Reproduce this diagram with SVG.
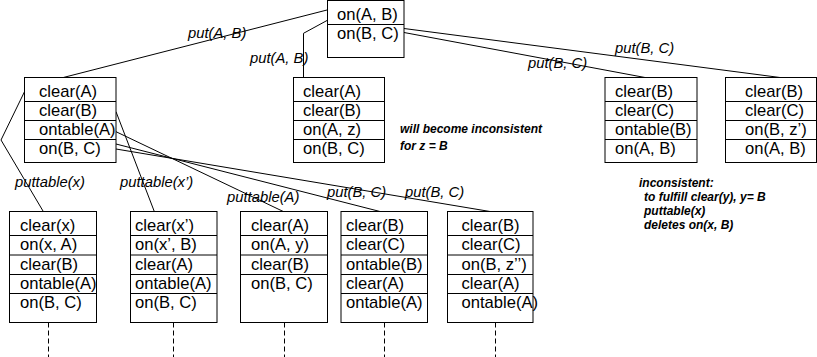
<svg xmlns="http://www.w3.org/2000/svg" width="817" height="357" viewBox="0 0 817 357">
  <style>
    .box { fill: #fff; stroke: #000; stroke-width: 1; }
    .sep { stroke: #000; stroke-width: 1; }
    .edge { fill: none; stroke: #000; stroke-width: 1; }
    .cont { fill: none; stroke: #000; stroke-width: 1; stroke-dasharray: 5 3; }
    .fact { font-family: "Liberation Sans", Arial, sans-serif; font-size: 16.6px; fill: #000; }
    .act { font-family: "Liberation Sans", Arial, sans-serif; font-size: 14.8px; font-style: italic; fill: #000; }
    .note { font-family: "Liberation Sans", Arial, sans-serif; font-size: 12px; font-style: italic; font-weight: bold; fill: #000; }
  </style>
  <rect width="817" height="357" fill="#fff"/>

  <!-- connectors -->
  <g id="connectors">
    <polyline class="edge" points="327,10 63.3,77.5"/>
    <polyline class="edge" points="327,20.5 303.5,33.3 303.5,77.5"/>
    <polyline class="edge" points="404,28.5 780,77.5"/>
    <polyline class="edge" points="404,32.5 645,77.5"/>
    <polyline class="edge" points="24.5,91.7 1,140 43.3,211.5"/>
    <polyline class="edge" points="116,111.7 154.3,211.5"/>
    <polyline class="edge" points="116,131.7 283.3,211.5"/>
    <polyline class="edge" points="116,144 380,211.5"/>
    <polyline class="edge" points="116,149 490,211.5"/>
    <line class="cont" x1="48.5" y1="322.5" x2="48.5" y2="357"/>
    <line class="cont" x1="173.5" y1="322.5" x2="173.5" y2="357"/>
    <line class="cont" x1="284.5" y1="322.5" x2="284.5" y2="357"/>
    <line class="cont" x1="384.5" y1="322.5" x2="384.5" y2="357"/>
    <line class="cont" x1="495.5" y1="322.5" x2="495.5" y2="357"/>
  </g>

  <!-- action labels -->
  <g id="labels">
    <text class="act" x="188" y="38">put(A, B)</text>
    <text class="act" x="250" y="63">put(A, B)</text>
    <text class="act" x="615" y="53">put(B, C)</text>
    <text class="act" x="528" y="68">put(B, C)</text>
    <text class="act" x="15" y="187">puttable(x)</text>
    <text class="act" x="120" y="187">puttable(x’)</text>
    <text class="act" x="227" y="202">puttable(A)</text>
    <text class="act" x="327" y="197">put(B, C)</text>
    <text class="act" x="405" y="197">put(B, C)</text>
  </g>

  <!-- goal -->
  <g id="goal">
    <rect class="box" x="327.5" y="0.5" width="76.5" height="57"/>
    <line class="sep" x1="327.5" y1="24.5" x2="404" y2="24.5"/>
    <text class="fact" x="337" y="19.5">on(A, B)</text>
    <text class="fact" x="337" y="39">on(B, C)</text>
  </g>

  <!-- first regression level -->
  <g id="r1a">
    <rect class="box" x="24.5" y="77.5" width="91.5" height="85"/>
    <line class="sep" x1="24.5" y1="101.5" x2="116" y2="101.5"/>
    <line class="sep" x1="24.5" y1="120.5" x2="116" y2="120.5"/>
    <line class="sep" x1="24.5" y1="139.5" x2="116" y2="139.5"/>
    <text class="fact" x="39" y="96.5">clear(A)</text>
    <text class="fact" x="39" y="115.5">clear(B)</text>
    <text class="fact" x="39" y="134.5">ontable(A)</text>
    <text class="fact" x="39" y="153.5">on(B, C)</text>
  </g>
  <g id="r1b">
    <rect class="box" x="293.5" y="77.5" width="91" height="85"/>
    <line class="sep" x1="293.5" y1="101.5" x2="384.5" y2="101.5"/>
    <line class="sep" x1="293.5" y1="120.5" x2="384.5" y2="120.5"/>
    <line class="sep" x1="293.5" y1="139.5" x2="384.5" y2="139.5"/>
    <text class="fact" x="303" y="96.5">clear(A)</text>
    <text class="fact" x="303" y="115.5">clear(B)</text>
    <text class="fact" x="303" y="134.5">on(A, z)</text>
    <text class="fact" x="303" y="153.5">on(B, C)</text>
  </g>
  <g id="r1c">
    <rect class="box" x="605" y="77.5" width="92" height="85"/>
    <line class="sep" x1="605" y1="101.5" x2="697" y2="101.5"/>
    <line class="sep" x1="605" y1="120.5" x2="697" y2="120.5"/>
    <line class="sep" x1="605" y1="139.5" x2="697" y2="139.5"/>
    <text class="fact" x="615" y="96.5">clear(B)</text>
    <text class="fact" x="615" y="115.5">clear(C)</text>
    <text class="fact" x="615" y="134.5">ontable(B)</text>
    <text class="fact" x="615" y="153.5">on(A, B)</text>
  </g>
  <g id="r1d">
    <rect class="box" x="725.5" y="77.5" width="91" height="85"/>
    <line class="sep" x1="725.5" y1="101.5" x2="816.5" y2="101.5"/>
    <line class="sep" x1="725.5" y1="120.5" x2="816.5" y2="120.5"/>
    <line class="sep" x1="725.5" y1="139.5" x2="816.5" y2="139.5"/>
    <text class="fact" x="745" y="96.5">clear(B)</text>
    <text class="fact" x="745" y="115.5">clear(C)</text>
    <text class="fact" x="745" y="134.5">on(B, z’)</text>
    <text class="fact" x="745" y="153.5">on(A, B)</text>
  </g>

  <!-- second regression level -->
  <g id="r2a">
    <rect class="box" x="9.5" y="211.5" width="87" height="111"/>
    <line class="sep" x1="9.5" y1="235.5" x2="96.5" y2="235.5"/>
    <line class="sep" x1="9.5" y1="255" x2="96.5" y2="255"/>
    <line class="sep" x1="9.5" y1="274.5" x2="96.5" y2="274.5"/>
    <line class="sep" x1="9.5" y1="293.5" x2="96.5" y2="293.5"/>
    <text class="fact" x="20" y="230.5">clear(x)</text>
    <text class="fact" x="20" y="250">on(x, A)</text>
    <text class="fact" x="20" y="269.5">clear(B)</text>
    <text class="fact" x="20" y="288.5">ontable(A)</text>
    <text class="fact" x="20" y="308">on(B, C)</text>
  </g>
  <g id="r2b">
    <rect class="box" x="130.5" y="211.5" width="86.5" height="111"/>
    <line class="sep" x1="130.5" y1="235.5" x2="217" y2="235.5"/>
    <line class="sep" x1="130.5" y1="255" x2="217" y2="255"/>
    <line class="sep" x1="130.5" y1="274.5" x2="217" y2="274.5"/>
    <line class="sep" x1="130.5" y1="293.5" x2="217" y2="293.5"/>
    <text class="fact" x="135" y="230.5">clear(x’)</text>
    <text class="fact" x="135" y="250">on(x’, B)</text>
    <text class="fact" x="135" y="269.5">clear(A)</text>
    <text class="fact" x="135" y="288.5">ontable(A)</text>
    <text class="fact" x="135" y="308">on(B, C)</text>
  </g>
  <g id="r2c">
    <rect class="box" x="240.5" y="211.5" width="87" height="111"/>
    <line class="sep" x1="240.5" y1="235.5" x2="327.5" y2="235.5"/>
    <line class="sep" x1="240.5" y1="255" x2="327.5" y2="255"/>
    <line class="sep" x1="240.5" y1="274.5" x2="327.5" y2="274.5"/>
    <text class="fact" x="251" y="230.5">clear(A)</text>
    <text class="fact" x="251" y="250">on(A, y)</text>
    <text class="fact" x="251" y="269.5">clear(B)</text>
    <text class="fact" x="251" y="288.5">on(B, C)</text>
  </g>
  <g id="r2d">
    <rect class="box" x="341" y="211.5" width="86.5" height="111"/>
    <line class="sep" x1="341" y1="235.5" x2="427.5" y2="235.5"/>
    <line class="sep" x1="341" y1="255" x2="427.5" y2="255"/>
    <line class="sep" x1="341" y1="274.5" x2="427.5" y2="274.5"/>
    <line class="sep" x1="341" y1="293.5" x2="427.5" y2="293.5"/>
    <text class="fact" x="346" y="230.5">clear(B)</text>
    <text class="fact" x="346" y="250">clear(C)</text>
    <text class="fact" x="346" y="269.5">ontable(B)</text>
    <text class="fact" x="346" y="288.5">clear(A)</text>
    <text class="fact" x="346" y="308">ontable(A)</text>
  </g>
  <g id="r2e">
    <rect class="box" x="447.5" y="211.5" width="85.5" height="111"/>
    <line class="sep" x1="447.5" y1="235.5" x2="533" y2="235.5"/>
    <line class="sep" x1="447.5" y1="255" x2="533" y2="255"/>
    <line class="sep" x1="447.5" y1="274.5" x2="533" y2="274.5"/>
    <line class="sep" x1="447.5" y1="293.5" x2="533" y2="293.5"/>
    <text class="fact" x="461.5" y="230.5">clear(B)</text>
    <text class="fact" x="461.5" y="250">clear(C)</text>
    <text class="fact" x="461.5" y="269.5">on(B, z’’)</text>
    <text class="fact" x="461.5" y="288.5">clear(A)</text>
    <text class="fact" x="461.5" y="308">ontable(A)</text>
  </g>

  <!-- annotations -->
  <g id="note-z">
    <text class="note" x="400" y="133">will become inconsistent</text>
    <text class="note" x="400" y="150">for z = B</text>
  </g>
  <g id="note-y">
    <text class="note" x="639" y="187">inconsistent:</text>
    <text class="note" x="644" y="201">to fulfill clear(y), y= B</text>
    <text class="note" x="644" y="215">puttable(x)</text>
    <text class="note" x="644" y="229">deletes on(x, B)</text>
  </g>
</svg>
